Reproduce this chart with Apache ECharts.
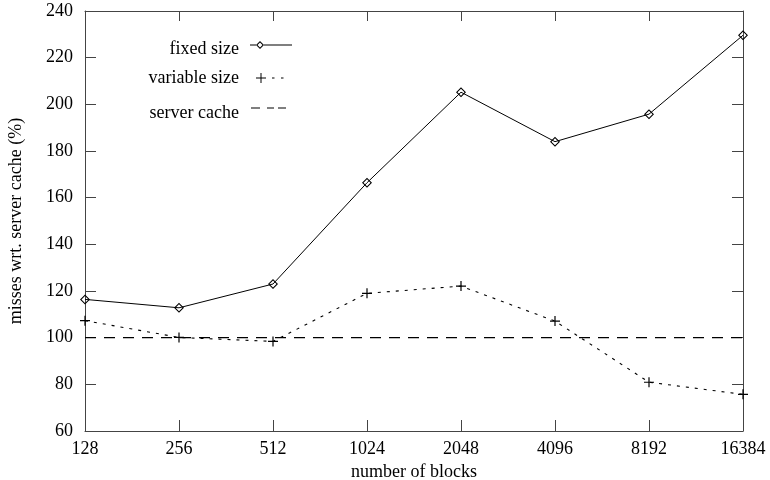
<!DOCTYPE html>
<html>
<head>
<meta charset="utf-8">
<script src="https://cdn.jsdelivr.net/npm/echarts@6/dist/echarts.min.js"></script>
<style>html,body{margin:0;padding:0;background:#fff}#c{width:770px;height:480px}</style>
</head>
<body>
<div id="c"></div>
<script>
const categories = ['128','256','512','1024','2048','4096','8192','16384'];
const fixedSize = [116.4, 112.8, 123.0, 166.4, 205.2, 184.0, 195.8, 229.6];
const variableSize = [107.3, 100.1, 98.4, 119.0, 122.1, 107.1, 80.9, 75.7];
const serverCache = [100, 100, 100, 100, 100, 100, 100, 100];
const yTicks = {min: 60, max: 240, interval: 20};

const font = 'Liberation Serif';
const axisColor = '#444';
const chart = echarts.init(document.getElementById('c'));

// marker shapes
const diamondPath = 'path://M5,0L10,5L5,10L0,5ZM5,1.5L1.5,5L5,8.5L8.5,5Z';
const plusPath = 'path://M0,5L10,5M5,0L5,10';
// legend samples (48x16 box)
const box = 'M0,0M48,16';
const iconFixed = 'path://' + box +
  'M16,0L20,4L16,8L12,4ZM16,1.5L13.5,4L16,6.5L18.5,4Z' +
  'M6,3.5h6v1h-6ZM20,3.5h28v1h-28Z';
const iconVariable = 'path://' + box +
  'M12,7.5h10v1h-10ZM16.5,3h1v10h-1Z' +
  'M28,7.5h2.5v1h-2.5ZM37,7.5h2.5v1h-2.5Z';
const iconServer = 'path://' + box +
  'M7,2.5h9v1h-9ZM23,2.5h7v1h-7ZM34,2.5h8v1h-8Z';

const legendBase = {
  right: 478, orient: 'vertical', align: 'right', itemWidth: 48, itemHeight: 16,
  textStyle: {fontFamily: font, fontSize: 18, color: '#000'}, padding: 0,
  inactiveColor: '#000', selectedMode: false
};
const iconStyle = {color: '#000', borderWidth: 0};
chart.setOption({
  animation: false,
  backgroundColor: '#fff',
  grid: {left: 85, right: 27, top: 11, bottom: 49, containLabel: false, outerBoundsMode: 'none'},
  legend: [
    Object.assign({}, legendBase, {top: 40, data: [{name: 'fixed size', icon: iconFixed, itemStyle: iconStyle}]}),
    Object.assign({}, legendBase, {top: 69, data: [{name: 'variable size', icon: iconVariable, itemStyle: iconStyle}]}),
    Object.assign({}, legendBase, {top: 104, data: [{name: 'server cache', icon: iconServer, itemStyle: iconStyle}]})
  ],
  xAxis: [{
    type: 'category', data: categories, boundaryGap: false,
    name: 'number of blocks', nameLocation: 'middle', nameGap: 31,
    nameTextStyle: {fontFamily: font, fontSize: 18, color: '#000'},
    axisLine: {lineStyle: {color: axisColor, width: 1}},
    axisTick: {inside: true, length: 11, lineStyle: {color: axisColor}},
    axisLabel: {fontFamily: font, fontSize: 18, color: '#000', margin: 9},
    splitLine: {show: false}
  }, {
    type: 'category', data: categories, boundaryGap: false, position: 'top',
    axisLine: {lineStyle: {color: axisColor, width: 1}},
    axisTick: {inside: true, length: 10, lineStyle: {color: axisColor}},
    axisLabel: {show: false}, splitLine: {show: false}
  }],
  yAxis: [{
    type: 'value', min: yTicks.min, max: yTicks.max, interval: yTicks.interval,
    name: 'misses wrt. server cache (%)', nameLocation: 'middle', nameGap: 60,
    nameTextStyle: {fontFamily: font, fontSize: 18, color: '#000'},
    axisLine: {show: true, lineStyle: {color: axisColor, width: 1}},
    axisTick: {show: true, inside: true, length: 11, lineStyle: {color: axisColor}},
    axisLabel: {fontFamily: font, fontSize: 18, color: '#000', margin: 12, padding: [4, 0, 0, 0]},
    splitLine: {show: false}
  }, {
    type: 'value', min: yTicks.min, max: yTicks.max, interval: yTicks.interval, position: 'right',
    axisLine: {show: true, lineStyle: {color: axisColor, width: 1}},
    axisTick: {show: true, inside: true, length: 11, lineStyle: {color: axisColor}},
    axisLabel: {show: false}, splitLine: {show: false}
  }],
  series: [{
    name: 'fixed size', type: 'line', data: fixedSize,
    symbol: diamondPath, symbolSize: 10, showAllSymbol: true,
    itemStyle: {color: '#000', borderWidth: 0},
    lineStyle: {color: '#000', width: 1}
  }, {
    name: 'variable size', type: 'line', data: variableSize,
    symbol: plusPath, symbolSize: 10, showAllSymbol: true,
    itemStyle: {color: 'none', borderColor: '#000', borderWidth: 1.2},
    lineStyle: {color: '#000', width: 1.1, type: [3, 6]}
  }, {
    name: 'server cache', type: 'line', data: serverCache,
    symbol: 'none',
    itemStyle: {color: '#000'},
    lineStyle: {color: '#000', width: 1.1, type: [11, 8]}
  }]
});
</script>
</body>
</html>
